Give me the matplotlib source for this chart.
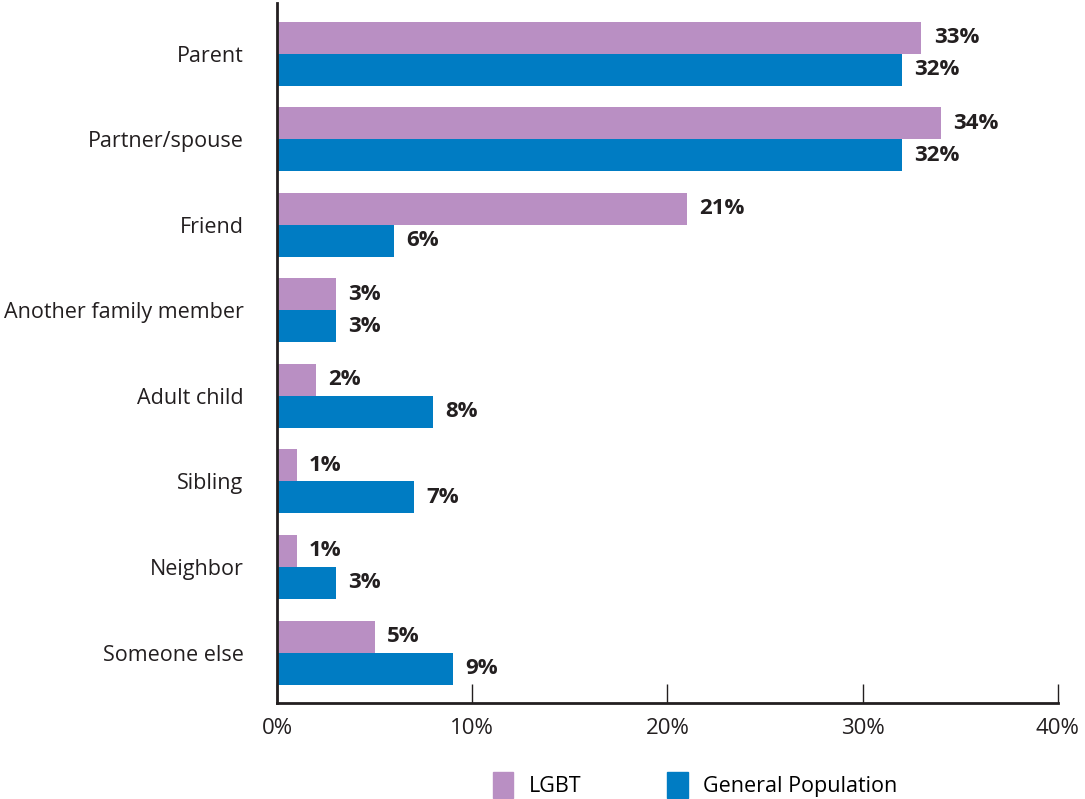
import numpy as np
import matplotlib.pyplot as plt
from matplotlib.patches import Patch

# data
kategori = ['Parent', 'Partner/spouse', 'Friend', 'Another family member',
            'Adult child', 'Sibling', 'Neighbor', 'Someone else']
lgbt = [33, 34, 21, 3, 2, 1, 1, 5]
umum = [32, 32, 6, 3, 8, 7, 3, 9]
xticks = [0, 10, 20, 30, 40]

warna_lgbt = '#B98FC3'
warna_umum = '#007CC3'
teks = '#231f20'

plt.rcParams['font.family'] = ['Open Sans', 'DejaVu Sans']

fig = plt.figure(figsize=(10.85, 7.99), dpi=100)
ax = fig.add_axes([0.2553, 0.1201, 0.7197, 0.8761])

y = np.arange(len(kategori))
h = 0.374
b1 = ax.barh(y - h / 2, lgbt, height=h, color=warna_lgbt)
b2 = ax.barh(y + h / 2, umum, height=h, color=warna_umum)

for bars, vals in [(b1, lgbt), (b2, umum)]:
    for bar, v in zip(bars, vals):
        ax.annotate(f'{v}%', (bar.get_width(), bar.get_y() + bar.get_height() / 2),
                    xytext=(9, 0), textcoords='offset points', va='center', ha='left',
                    fontsize=16, fontweight='bold', color=teks)

ax.set_xlim(0, 40)
ax.set_ylim(len(kategori) - 1 + 0.59, -0.59)
ax.set_yticks(y)
ax.set_yticklabels(kategori, fontsize=15.5, color=teks)
ax.set_xticks(xticks)
ax.set_xticklabels([f'{t}%' for t in xticks], fontsize=16, color=teks)
ax.tick_params(axis='y', length=0, pad=24)
ax.tick_params(axis='x', direction='in', length=14, width=1, color=teks, pad=11)

for s in ['top', 'right']:
    ax.spines[s].set_visible(False)
for s in ['left', 'bottom']:
    ax.spines[s].set_linewidth(2)
    ax.spines[s].set_color(teks)

handles = [Patch(color=warna_lgbt, label='LGBT'), Patch(color=warna_umum, label='General Population')]
fig.legend(handles=handles, loc='center', bbox_to_anchor=(0.6406, 0.0175), ncol=2,
           frameon=False, fontsize=15.5, handlelength=0.95, handleheight=1.5,
           columnspacing=4, handletextpad=0.7)

plt.savefig('out.png', dpi=100)
